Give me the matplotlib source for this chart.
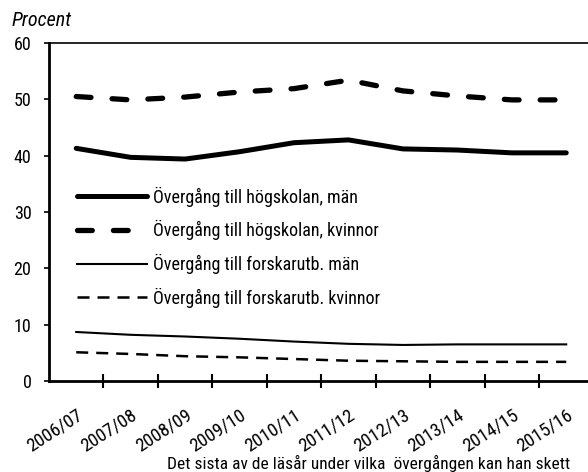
import matplotlib.pyplot as plt

plt.rcParams['font.family'] = ['Roboto Condensed', 'DejaVu Sans']

years = ["2006/07", "2007/08", "2008/09", "2009/10", "2010/11",
         "2011/12", "2012/13", "2013/14", "2014/15", "2015/16"]
hogskola_man = [41.3, 39.7, 39.4, 40.7, 42.3, 42.8, 41.2, 41.0, 40.5, 40.5]
hogskola_kvinnor = [50.5, 49.9, 50.4, 51.3, 51.9, 53.4, 51.5, 50.6, 49.9, 49.9]
forskar_man = [8.7, 8.2, 7.9, 7.5, 7.0, 6.6, 6.4, 6.5, 6.5, 6.5]
forskar_kvinnor = [5.1, 4.8, 4.4, 4.2, 3.9, 3.6, 3.5, 3.4, 3.4, 3.4]

labels = ["Övergång till högskolan, män",
          "Övergång till högskolan, kvinnor",
          "Övergång till forskarutb. män",
          "Övergång till forskarutb. kvinnor"]

fig = plt.figure(figsize=(5.88, 4.72), dpi=100)
ax = fig.add_axes([49/588, 91/472, 1 - 49/588, 338/472])

x = range(len(years))
ax.plot(x, hogskola_man, color='black', lw=3.6, solid_capstyle='round', label=labels[0])
ax.plot(x, hogskola_kvinnor, color='black', lw=3.8, dashes=(2.8, 4.0),
        dash_capstyle='round', label=labels[1])
ax.plot(x, forskar_man, color='black', lw=1.5, label=labels[2])
ax.plot(x, forskar_kvinnor, color='black', lw=1.8, dashes=(4.8, 3.2), label=labels[3])

ax.set_xlim(-0.5, 9.4)
ax.set_ylim(0, 60)
ax.set_yticks([0, 10, 20, 30, 40, 50, 60])
ax.set_xticks([i + 0.5 for i in range(9)])
ax.set_xticklabels([])
ax.set_xticks(list(x), minor=True)
ax.set_xticklabels(years, minor=True, rotation=33, ha='right', va='top',
                   rotation_mode='anchor', fontsize=13.5)
ax.tick_params(axis='x', which='minor', length=0, pad=18)
ax.tick_params(axis='x', which='major', direction='inout', length=10, width=1.5)
ax.tick_params(axis='y', direction='out', length=3.6, width=1.2, labelsize=13, pad=9)

ax.spines['left'].set_linewidth(2)
ax.spines['bottom'].set_linewidth(2)
ax.spines['top'].set_linewidth(1.2)
ax.spines['right'].set_visible(False)

ax.legend(loc='upper left', bbox_to_anchor=(0.052, 0.575), frameon=False,
          borderaxespad=0, borderpad=0,
          fontsize=13, handlelength=3.9, handletextpad=0.33, labelspacing=0.75)

fig.text(12/588, 1 - 20/472, "Procent", fontsize=14.5, style='italic', va='center')
fig.text(369/588, 1 - 463/472, "Det sista av de läsår under vilka  övergången kan han skett",
         fontsize=12.5, ha='center', va='center')

fig.savefig("out.png", dpi=100)
